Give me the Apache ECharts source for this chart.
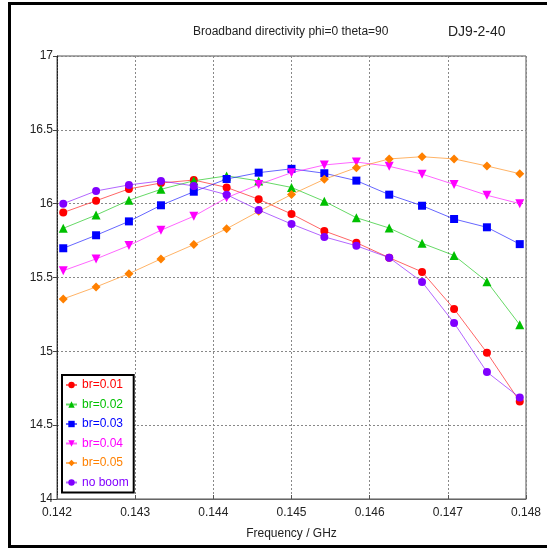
<!DOCTYPE html>
<html>
<head>
<meta charset="utf-8">
<script src="https://cdn.jsdelivr.net/npm/echarts@6/dist/echarts.min.js"></script>
<style>
html,body{margin:0;padding:0;background:#fff;}
#chart{width:547px;height:550px;}
</style>
</head>
<body>
<div id="chart"></div>
<script>
const freq = [0.14208, 0.14250, 0.14292, 0.14333, 0.14375, 0.14417, 0.14458, 0.14500, 0.14542, 0.14583, 0.14625, 0.14667, 0.14708, 0.14750, 0.14792];
const br001 = [15.94, 16.02, 16.10, 16.14, 16.16, 16.11, 16.03, 15.93, 15.815, 15.736, 15.634, 15.538, 15.287, 14.991, 14.66];
const br002 = [15.833, 15.923, 16.023, 16.097, 16.155, 16.188, 16.154, 16.11, 16.016, 15.905, 15.835, 15.732, 15.649, 15.472, 15.18];
const br003 = [15.698, 15.786, 15.88, 15.989, 16.081, 16.167, 16.21, 16.236, 16.206, 16.156, 16.061, 15.986, 15.896, 15.84, 15.726];
const br004 = [15.546, 15.626, 15.716, 15.82, 15.915, 16.04, 16.13, 16.21, 16.262, 16.282, 16.253, 16.2, 16.13, 16.057, 16.0];
const br005 = [15.355, 15.436, 15.526, 15.626, 15.723, 15.83, 15.948, 16.062, 16.165, 16.244, 16.303, 16.318, 16.303, 16.255, 16.203];
const noBoom = [16.0, 16.086, 16.127, 16.154, 16.12, 16.061, 15.957, 15.862, 15.775, 15.715, 15.634, 15.47, 15.192, 14.86, 14.687];
const seriesNames = ['br=0.01', 'br=0.02', 'br=0.03', 'br=0.04', 'br=0.05', 'no boom'];
const xTicks = ['0.142', '0.143', '0.144', '0.145', '0.146', '0.147', '0.148'];
const yTicks = ['14', '14.5', '15', '15.5', '16', '16.5', '17'];

const values = [br001, br002, br003, br004, br005, noBoom];
const colors = ['#ff0000', '#00c000', '#0000ff', '#ff00ff', '#ff8000', '#8000ff'];
const symbols = ['circle', 'triangle', 'rect', 'triangle', 'diamond', 'circle'];
const rot = [0, 0, 0, 180, 0, 0];
const sizes = [8, 9, 8, 9, 9, 8];
const FONT = 'Liberation Sans';

const series = values.map((vals, i) => ({
  name: seriesNames[i],
  type: 'line',
  data: freq.map((f, j) => [f, vals[j]]),
  symbol: symbols[i],
  symbolRotate: rot[i],
  symbolSize: sizes[i],
  showAllSymbol: true,
  itemStyle: { color: colors[i] },
  lineStyle: { color: colors[i], width: 1, opacity: 0.6 },
  emphasis: { disabled: true },
  animation: false,
  z: 2 + i
}));

const chart = echarts.init(document.getElementById('chart'), null, { renderer: 'canvas' });
chart.setOption({
  animation: false,
  backgroundColor: '#fff',
  title: [
    { text: 'Broadband directivity phi=0 theta=90', left: 188, top: 21,
      textStyle: { fontFamily: FONT, fontSize: 12, fontWeight: 'normal', color: '#222' } },
    { text: 'DJ9-2-40', left: 443, top: 20,
      textStyle: { fontFamily: FONT, fontSize: 14, fontWeight: 'normal', color: '#222' } }
  ],
  graphic: [
    { type: 'rect', shape: { x: 9.5, y: 3.5, width: 600, height: 543 }, silent: true,
      style: { fill: null, stroke: '#000', lineWidth: 3 }, z: 100 }
  ],
  grid: { left: 57, right: 21, top: 56, bottom: 51, show: true, borderColor: '#555', borderWidth: 1, backgroundColor: 'transparent' },
  legend: {
    orient: 'vertical', left: 62, top: 375,
    backgroundColor: '#fff', borderColor: '#000', borderWidth: 2,
    padding: [4, 5, 4, 3], itemGap: 7.5, itemWidth: 11, itemHeight: 8,
    textStyle: { fontFamily: FONT, fontSize: 12 },
    data: seriesNames.map((n, i) => ({ name: n, textStyle: { color: colors[i] } })),
    selectedMode: false, z: 50
  },
  xAxis: {
    type: 'value', min: 0.142, max: 0.148, interval: 0.001,
    name: 'Frequency / GHz', nameLocation: 'middle', nameGap: 29,
    nameTextStyle: { fontFamily: FONT, fontSize: 12, color: '#222' },
    axisLine: { show: true, lineStyle: { color: '#666', width: 1 } },
    axisTick: { show: true, inside: true, length: 4, lineStyle: { color: '#555' } },
    axisLabel: { fontFamily: FONT, fontSize: 12, color: '#222', margin: 8,
      formatter: v => xTicks[Math.round((v - 0.142) * 1000)] },
    splitLine: { show: true, lineStyle: { color: '#888', type: [2, 2], width: 1 } }
  },
  yAxis: {
    type: 'value', min: 14, max: 17, interval: 0.5,
    axisLine: { show: true, lineStyle: { color: '#222', type: [2, 1], width: 1 } },
    axisTick: { show: true, length: 4, lineStyle: { color: '#444' } },
    axisLabel: { fontFamily: FONT, fontSize: 12, color: '#222', margin: 4,
      formatter: v => yTicks[Math.round((v - 14) * 2)] },
    splitLine: { show: true, lineStyle: { color: '#888', type: [2, 2], width: 1 } }
  },
  series: series
});
</script>
</body>
</html>
